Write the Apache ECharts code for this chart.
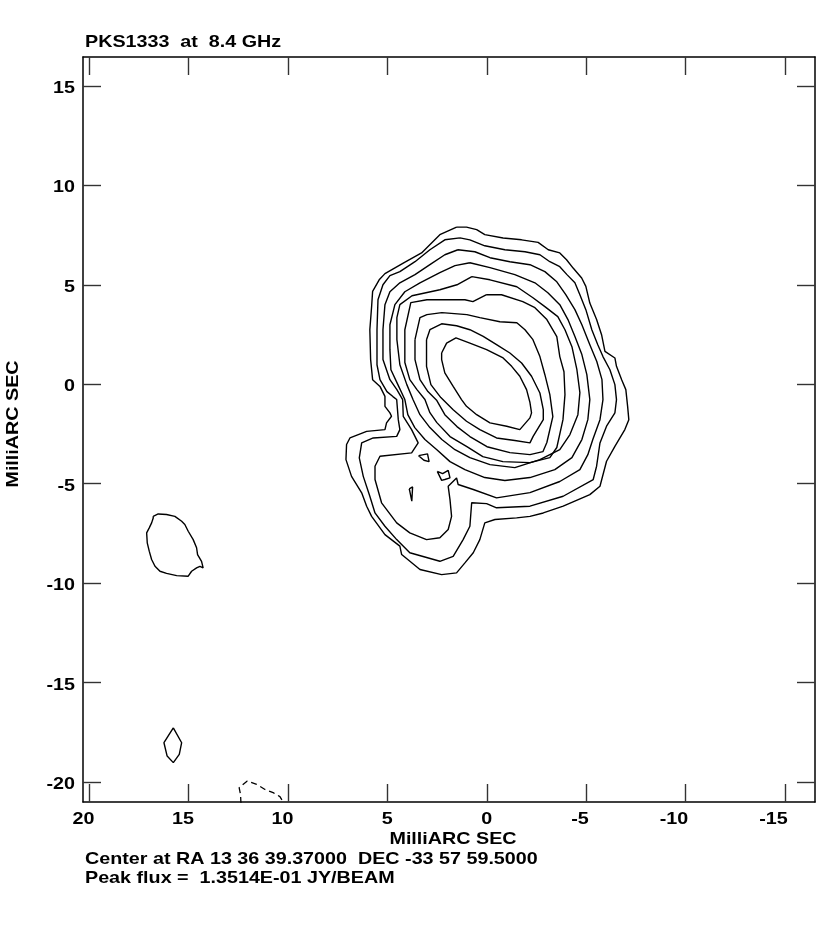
<!DOCTYPE html>
<html><head><meta charset="utf-8">
<script src="https://cdn.jsdelivr.net/npm/echarts/dist/echarts.min.js"></script>
<style>html,body{margin:0;padding:0;background:#fff}#chart{width:830px;height:943px}</style>
</head><body><div id="chart"></div>
<script>
const FONT = "'Liberation Sans', Arial, Helvetica, sans-serif";
const xTicks = [20, 15, 10, 5, 0, -5, -10, -15];
const yTicks = [15, 10, 5, 0, -5, -10, -15, -20];

const contour1 = [[1.52,7.90],[1.02,7.90],[0.51,7.77],[0.10,7.52],[-0.82,7.35],[-1.75,7.26],[-2.58,7.13],[-3.09,6.76],[-3.67,6.60],[-4.01,6.26],[-4.34,5.84],[-4.77,5.34],[-4.98,4.92],[-5.18,4.08],[-5.52,3.25],[-5.77,2.49],[-5.94,1.65],[-6.44,1.32],[-6.52,0.90],[-6.78,0.23],[-6.99,-0.27],[-7.08,-1.11],[-7.14,-1.78],[-6.94,-2.28],[-6.44,-3.12],[-6.02,-3.87],[-5.69,-5.13],[-5.18,-5.55],[-3.84,-6.13],[-2.84,-6.47],[-2.17,-6.64],[-1.50,-6.72],[-0.41,-6.80],[0.10,-6.97],[0.35,-7.81],[0.68,-8.47],[1.10,-8.98],[1.52,-9.48],[2.27,-9.57],[3.36,-9.31],[4.28,-8.56],[4.37,-8.14],[5.12,-7.56],[5.79,-6.64],[6.04,-6.13],[6.29,-5.46],[6.80,-4.63],[7.08,-3.79],[7.05,-3.03],[6.88,-2.70],[6.04,-2.37],[5.12,-2.28],[5.04,-1.94],[4.79,-1.61],[4.87,-1.44],[5.12,-1.11],[5.12,-0.61],[5.37,-0.11],[5.74,0.23],[5.84,1.24],[5.88,2.74],[5.79,3.91],[5.74,4.67],[5.41,5.25],[5.12,5.56],[4.20,6.09],[3.28,6.60],[2.36,7.52]];
const contour2 = [[1.35,7.36],[0.85,7.26],[0.10,6.96],[-0.91,6.76],[-1.92,6.66],[-2.67,6.51],[-3.17,6.16],[-3.67,5.91],[-4.03,5.51],[-4.43,5.10],[-4.68,4.50],[-4.98,3.75],[-5.28,2.74],[-5.58,1.99],[-5.84,1.39],[-6.19,0.73],[-6.44,-0.02],[-6.52,-0.77],[-6.44,-1.44],[-6.02,-2.11],[-5.69,-2.95],[-5.52,-4.12],[-5.35,-4.79],[-3.84,-5.63],[-2.17,-6.13],[-0.49,-6.21],[0.01,-6.00],[0.76,-5.96],[0.85,-7.14],[1.19,-7.81],[1.69,-8.65],[2.36,-8.90],[3.87,-8.47],[4.53,-7.81],[5.12,-7.14],[5.62,-6.47],[5.88,-5.63],[6.21,-4.63],[6.41,-3.70],[6.29,-2.95],[5.71,-2.70],[4.53,-2.62],[4.37,-2.28],[4.45,-1.78],[4.53,-0.77],[4.72,-0.62],[5.02,-0.37],[5.37,0.23],[5.52,0.98],[5.52,2.74],[5.47,4.25],[5.22,5.00],[4.87,5.46],[4.37,5.66],[3.61,6.16],[2.86,6.76],[2.11,7.26]];
const contour3 = [[1.45,6.76],[0.60,6.66],[-0.16,6.36],[-1.16,6.16],[-2.17,6.01],[-2.92,5.66],[-3.52,5.15],[-3.97,4.50],[-4.43,3.75],[-4.78,2.99],[-5.18,1.99],[-5.53,1.14],[-5.79,0.23],[-5.84,-0.77],[-5.69,-1.78],[-5.33,-2.78],[-5.08,-3.54],[-4.68,-4.29],[-3.67,-4.89],[-2.17,-5.45],[-0.49,-5.71],[0.68,-5.29],[1.44,-5.04],[1.52,-4.71],[1.94,-5.13],[1.85,-5.80],[1.77,-6.64],[1.94,-7.30],[2.36,-7.72],[3.03,-7.81],[3.87,-7.47],[4.53,-6.97],[5.29,-5.96],[5.62,-4.79],[5.62,-4.12],[5.37,-3.62],[3.78,-3.45],[3.45,-2.95],[3.78,-2.28],[4.20,-1.61],[4.23,-0.77],[4.52,-0.27],[4.87,0.23],[5.22,1.24],[5.22,2.74],[5.12,4.00],[4.87,4.65],[4.37,5.10],[3.61,5.51],[2.86,6.01],[2.11,6.51]];
const contour4 = [[0.85,6.11],[-0.16,5.86],[-1.41,5.51],[-2.42,5.10],[-3.07,4.60],[-3.67,4.00],[-4.08,3.25],[-4.43,2.40],[-4.78,1.49],[-5.03,0.48],[-5.18,-0.77],[-5.08,-1.78],[-4.78,-2.78],[-4.28,-3.69],[-3.42,-4.29],[-2.17,-4.69],[-0.91,-4.84],[0.10,-4.69],[1.10,-4.29],[1.85,-3.89],[2.51,-3.29],[3.11,-2.78],[3.62,-2.18],[3.97,-1.53],[4.12,-0.77],[4.47,-0.02],[4.82,0.73],[4.87,1.74],[4.87,2.99],[4.62,4.00],[4.12,4.65],[3.36,5.10],[2.36,5.61],[1.60,5.96]];
const contour5 = [[0.75,5.41],[-0.16,5.25],[-1.51,4.90],[-2.32,4.35],[-2.92,3.90],[-3.57,3.40],[-3.93,2.74],[-4.28,1.89],[-4.53,0.73],[-4.68,-0.42],[-4.58,-1.53],[-4.18,-2.53],[-3.67,-3.29],[-2.67,-3.79],[-1.41,-4.19],[-0.16,-4.04],[0.85,-3.69],[1.60,-3.29],[2.26,-2.78],[2.86,-2.18],[3.36,-1.53],[3.71,-0.77],[4.02,-0.02],[4.37,0.98],[4.52,2.24],[4.52,3.35],[4.37,4.00],[3.76,4.45],[2.36,4.75],[1.50,5.00]];
const contour6 = [[0.01,4.50],[-0.74,4.50],[-1.81,4.15],[-2.42,3.85],[-3.02,3.25],[-3.52,2.39],[-3.67,1.39],[-3.88,0.63],[-3.93,-0.52],[-3.83,-1.78],[-3.52,-3.18],[-3.17,-3.69],[-2.17,-3.94],[-0.81,-3.89],[0.20,-3.64],[1.00,-3.14],[1.85,-2.63],[2.51,-1.93],[2.86,-1.43],[3.11,-0.77],[3.51,-0.27],[3.87,0.23],[4.12,1.09],[4.12,2.74],[3.82,4.10],[3.01,4.25],[2.11,4.25],[1.10,4.25],[0.70,4.15]];
const contour7 = [[3.61,2.24],[3.36,3.35],[3.01,3.50],[2.26,3.60],[1.00,3.50],[0.35,3.35],[-0.66,3.14],[-1.51,3.09],[-1.92,2.74],[-2.32,2.24],[-2.67,1.39],[-2.92,0.48],[-3.17,-0.52],[-3.32,-1.63],[-3.02,-2.93],[-2.82,-3.39],[-2.17,-3.54],[-1.16,-3.44],[-0.01,-3.14],[0.85,-2.63],[1.50,-2.13],[2.11,-1.53],[2.51,-0.82],[2.96,-0.37],[3.36,0.23],[3.61,1.24]];
const contour8 = [[3.03,2.24],[2.86,2.74],[2.27,3.04],[1.52,2.94],[0.85,2.74],[0.18,2.41],[-0.49,1.99],[-1.16,1.57],[-1.75,1.07],[-2.25,0.40],[-2.67,-0.44],[-2.84,-1.28],[-2.84,-1.78],[-2.33,-2.62],[-2.17,-2.95],[-1.41,-2.83],[-0.49,-2.70],[0.35,-2.28],[1.02,-1.86],[1.69,-1.28],[2.31,-0.67],[2.81,-0.02],[3.03,0.90]];
const contour9 = [[2.27,1.57],[2.02,2.07],[1.55,2.33],[0.85,2.07],[0.01,1.74],[-0.82,1.32],[-1.25,0.90],[-1.66,0.40],[-2.00,-0.27],[-2.17,-0.92],[-2.25,-1.44],[-2.17,-1.69],[-1.66,-2.28],[-1.00,-2.11],[-0.16,-1.94],[0.51,-1.53],[1.02,-1.11],[1.27,-0.77],[1.69,-0.11],[2.11,0.57],[2.27,1.24]];
const bowtieA = [[3.43,-3.59],[2.98,-3.50],[2.90,-3.89],[3.16,-3.82]];
const bowtieB = [[2.49,-4.38],[2.22,-4.49],[1.94,-4.33],[1.85,-4.71],[2.11,-4.79],[2.27,-4.83]];
const lobePeak = [[3.90,-5.26],[3.73,-5.16],[3.77,-5.88],[3.87,-5.38]];
const blobEast = [[16.77,-6.64],[16.52,-6.52],[16.10,-6.55],[15.68,-6.64],[15.34,-6.89],[15.18,-7.05],[15.01,-7.39],[14.76,-7.81],[14.59,-8.22],[14.54,-8.56],[14.34,-8.90],[14.26,-9.23],[14.42,-9.15],[14.59,-9.23],[14.84,-9.40],[15.01,-9.65],[15.59,-9.62],[16.10,-9.51],[16.43,-9.40],[16.68,-9.15],[16.85,-8.81],[16.97,-8.39],[17.07,-7.97],[17.10,-7.47],[16.97,-7.22],[16.85,-6.97],[16.77,-6.72]];
const diamondSouth = [[15.76,-17.27],[15.34,-18.02],[15.46,-18.61],[15.76,-19.02],[16.07,-18.69],[16.23,-18.02]];
const negContour = [[12.36,-21.05],[12.38,-20.62],[12.45,-20.28],[12.04,-19.95],[11.57,-20.11],[11.15,-20.37],[10.74,-20.53],[10.40,-20.73],[10.20,-21.05]];

const closedContours = [contour1, contour2, contour3, contour4, contour5, contour6, contour7, contour8, contour9, bowtieA, bowtieB, lobePeak, blobEast, diamondSouth];

function closeRing(a) { return a.concat([a[0]]); }

const series = closedContours.map(c => ({
  type: 'line', data: closeRing(c), symbol: 'none', showSymbol: false, silent: true,
  lineStyle: { color: '#000', width: 1.4 }, xAxisIndex: 0, yAxisIndex: 0
}));
series.push({
  type: 'line', data: negContour, symbol: 'none', showSymbol: false, silent: true,
  lineStyle: { color: '#000', width: 1.3, type: [6, 4] }, xAxisIndex: 0, yAxisIndex: 0
});

const lineStyleAxis = { color: '#000', width: 1.5 };
const tickStyle = { color: '#333', width: 1.4 };

function xAx(pos) {
  return {
    type: 'value', min: -16.5, max: 20.3, inverse: true, position: pos,
    axisLine: { show: true, onZero: false, lineStyle: lineStyleAxis },
    axisTick: { show: true, inside: true, length: 18, customValues: xTicks, lineStyle: tickStyle },
    axisLabel: { show: false, customValues: xTicks },
    splitLine: { show: false }
  };
}
function yAx(pos) {
  return {
    type: 'value', min: -21, max: 16.45, position: pos,
    axisLine: { show: true, onZero: false, lineStyle: lineStyleAxis },
    axisTick: { show: true, inside: true, length: 18, customValues: yTicks, lineStyle: tickStyle },
    axisLabel: { show: false, customValues: yTicks },
    splitLine: { show: false }
  };
}

function txt(text, x, y, align, extra) {
  return Object.assign({
    type: 'text', x: x, y: y, scaleX: 1.16, silent: true,
    style: { text: text, fill: '#000', font: 'bold 17px ' + FONT, align: align, verticalAlign: 'middle', textAlign: align, textVerticalAlign: 'middle' }
  }, extra || {});
}

const chart = echarts.init(document.getElementById('chart'), null, { renderer: 'canvas' });
chart.setOption({
  animation: false,
  backgroundColor: '#fff',
  grid: { left: 83, top: 57, width: 732, height: 745, containLabel: false },
  xAxis: [xAx('bottom'), xAx('top')],
  yAxis: [yAx('left'), yAx('right')],
  series: series
});

// tick labels placed through the axes' own scales
const gridBottom = chart.convertToPixel({ yAxisIndex: 0 }, -21);
const gridLeft = chart.convertToPixel({ xAxisIndex: 0 }, 20.3);
const labels = [];
xTicks.forEach(v => {
  const px = chart.convertToPixel({ xAxisIndex: 0 }, v);
  // ones digit sits over the tick, as in the original plot
  const right = px + (v < 0 ? 2.5 : 5.5);
  labels.push(txt(String(v), right, gridBottom + 17.5, 'right'));
});
yTicks.forEach(v => {
  const py = chart.convertToPixel({ yAxisIndex: 0 }, v);
  labels.push(txt(String(v), gridLeft - 8, py + 2.5, 'right'));
});

chart.setOption({
  graphic: [
    txt('PKS1333  at  8.4 GHz', 85, 42.5, 'left'),
    txt('MilliARC SEC', 453, 839, 'center'),
    txt('Center at RA 13 36 39.37000  DEC -33 57 59.5000', 85, 859.5, 'left'),
    txt('Peak flux =  1.3514E-01 JY/BEAM', 85, 878, 'left'),
    txt('MilliARC SEC', 13, 424, 'center', { rotation: Math.PI / 2 })
  ].concat(labels)
});
</script></body></html>
